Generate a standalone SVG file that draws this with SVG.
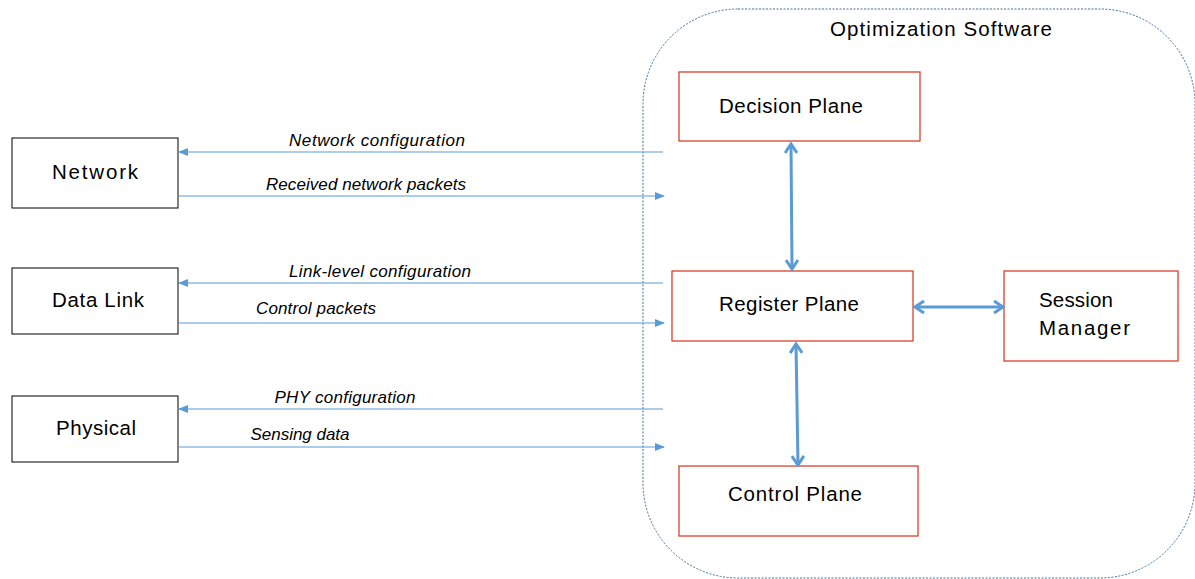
<svg xmlns="http://www.w3.org/2000/svg" width="1195" height="579" viewBox="0 0 1195 579">
<style>
text{font-family:"Liberation Sans",Arial,sans-serif;fill:#000}
.n{font-size:20.5px}
.l{font-size:17px;font-style:italic}
.bk{fill:#fff;stroke:#000;stroke-width:1}
.rd{fill:#fff;stroke:#d9412b;stroke-width:1.3}
.thin{stroke:#5b9bd5;stroke-width:1.2;fill:none}
.thick{stroke:#5b9bd5;stroke-width:3;fill:none}
</style>
<defs>
<marker id="ah" markerWidth="10" markerHeight="8" refX="9" refY="4" orient="auto" markerUnits="userSpaceOnUse">
<path d="M0,0 L10,4 L0,8 Z" fill="#5b9bd5"/>
</marker>
<marker id="oa" markerWidth="14" markerHeight="14" refX="11" refY="7" orient="auto-start-reverse" markerUnits="userSpaceOnUse">
<path d="M2,1 L11,7 L2,13" fill="none" stroke="#5b9bd5" stroke-width="3" stroke-linejoin="miter"/>
</marker>
</defs>
<rect x="0" y="0" width="1195" height="579" fill="#fff"/>
<g id="optimization-software">
<rect x="643" y="9" width="552" height="569" rx="95" ry="95" fill="none" stroke="#41719c" stroke-width="1" stroke-dasharray="2,1.5"/>
<text class="n" x="941" y="36" text-anchor="middle" textLength="222">Optimization Software</text>
</g>
<g id="network"><rect class="bk" x="12" y="138" width="166" height="70"/><text class="n" x="95" y="179" text-anchor="middle" textLength="86">Network</text></g>
<g id="data-link"><rect class="bk" x="12" y="268" width="166" height="66"/><text class="n" x="98" y="307" text-anchor="middle" textLength="92">Data Link</text></g>
<g id="physical"><rect class="bk" x="12" y="396" width="166" height="66"/><text class="n" x="96" y="435" text-anchor="middle" textLength="80">Physical</text></g>
<g id="decision-plane"><rect class="rd" x="679" y="72" width="241" height="69"/><text class="n" x="791" y="113" text-anchor="middle" textLength="144">Decision Plane</text></g>
<g id="register-plane"><rect class="rd" x="672" y="271" width="241" height="70"/><text class="n" x="789" y="311" text-anchor="middle" textLength="140">Register Plane</text></g>
<g id="session-manager"><rect class="rd" x="1004" y="271" width="174" height="90"/><text class="n" x="1039" y="307" textLength="74">Session</text><text class="n" x="1039" y="335" textLength="91">Manager</text></g>
<g id="control-plane"><rect class="rd" x="679" y="466" width="239" height="70"/><text class="n" x="795" y="501" text-anchor="middle" textLength="134">Control Plane</text></g>
<g id="connectors">
<line class="thin" x1="663" y1="152" x2="179" y2="152" marker-end="url(#ah)"/>
<line class="thin" x1="179" y1="196" x2="664" y2="196" marker-end="url(#ah)"/>
<line class="thin" x1="663" y1="283" x2="179" y2="283" marker-end="url(#ah)"/>
<line class="thin" x1="179" y1="323" x2="664" y2="323" marker-end="url(#ah)"/>
<line class="thin" x1="663" y1="409" x2="179" y2="409" marker-end="url(#ah)"/>
<line class="thin" x1="179" y1="447" x2="664" y2="447" marker-end="url(#ah)"/>
<line class="thick" x1="791" y1="144" x2="792" y2="269" marker-start="url(#oa)" marker-end="url(#oa)"/>
<line class="thick" x1="796" y1="344" x2="798" y2="465" marker-start="url(#oa)" marker-end="url(#oa)"/>
<line class="thick" x1="915" y1="307" x2="1003" y2="307" marker-start="url(#oa)" marker-end="url(#oa)"/>
<text class="l" x="377" y="146" text-anchor="middle" textLength="176">Network configuration</text>
<text class="l" x="366" y="190" text-anchor="middle" textLength="200">Received network packets</text>
<text class="l" x="380" y="277" text-anchor="middle" textLength="182">Link-level configuration</text>
<text class="l" x="316" y="314" text-anchor="middle" textLength="120">Control packets</text>
<text class="l" x="345" y="403" text-anchor="middle" textLength="141">PHY configuration</text>
<text class="l" x="300" y="440" text-anchor="middle" textLength="99">Sensing data</text>
</g>
</svg>
